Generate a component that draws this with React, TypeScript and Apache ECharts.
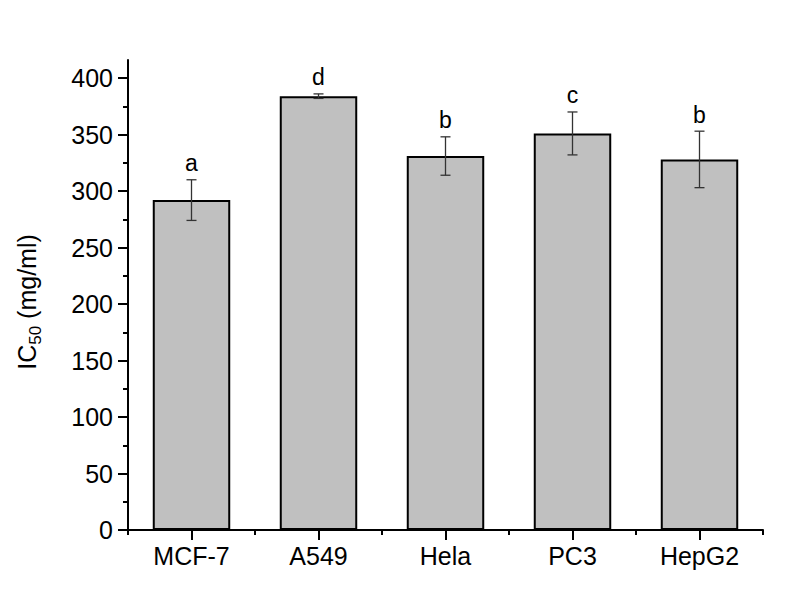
import React, { useEffect, useRef } from "react";
import * as echarts from "echarts";

const categories = ["MCF-7", "A549", "Hela", "PC3", "HepG2"];
const means = [292, 384, 331, 351, 328];
const errors = [18, 2, 17, 19, 25];
const letters = ["a", "d", "b", "c", "b"];
const majorTicks = [0, 50, 100, 150, 200, 250, 300, 350, 400];
const minorTicks = [25, 75, 125, 175, 225, 275, 325, 375];

const FONT = "'Liberation Sans', Arial, sans-serif";

export default function App() {
  const ref = useRef<HTMLDivElement>(null);
  useEffect(() => {
    if (!ref.current) return;
    const chart = echarts.init(ref.current, null, { renderer: "svg" });
    const errData = categories.map((_, i) => [i, means[i], errors[i]]);
    chart.setOption({
      animation: false,
      backgroundColor: "#ffffff",
      grid: { left: 128, right: 22, top: 60, bottom: 62, containLabel: false, outerBoundsMode: "none" },
      xAxis: [
        {
          type: "category",
          data: categories,
          boundaryGap: true,
          axisLine: { show: true, lineStyle: { color: "#000", width: 2 } },
          axisTick: { show: true, alignWithLabel: true, length: 10, inside: false, lineStyle: { color: "#000", width: 2 } },
          axisLabel: { color: "#000", fontSize: 25, fontFamily: FONT, margin: 13 },
          splitLine: { show: false },
        },
        {
          type: "category",
          data: categories,
          position: "bottom",
          boundaryGap: true,
          axisLine: { show: false },
          axisTick: { show: true, alignWithLabel: false, length: 5, lineStyle: { color: "#000", width: 2 } },
          axisLabel: { show: false },
          splitLine: { show: false },
        },
      ],
      yAxis: [
        {
          type: "value",
          min: 0,
          max: 416,
          interval: 50,
          name: "{a|IC}{s|50}{a| (mg/ml)}",
          nameLocation: "middle",
          nameRotate: 90,
          nameGap: 84,
          nameTextStyle: {
            padding: [0, 14, 0, 0],
            rich: {
              a: { fontSize: 25, fontFamily: FONT, color: "#000", lineHeight: 30, verticalAlign: "top" },
              s: { fontSize: 17, fontFamily: FONT, color: "#000", verticalAlign: "bottom", lineHeight: 17, padding: [24, 0, 0, 0] },
            },
          },
          axisLine: { show: true, lineStyle: { color: "#000", width: 2 } },
          axisTick: { show: true, length: 10, customValues: majorTicks, lineStyle: { color: "#000", width: 2 } },
          axisLabel: { color: "#000", fontSize: 25, fontFamily: FONT, margin: 15, customValues: majorTicks },
          splitLine: { show: false },
        },
        {
          type: "value",
          min: 0,
          max: 416,
          interval: 50,
          position: "left",
          axisLine: { show: false },
          axisTick: { show: true, length: 5, customValues: minorTicks, lineStyle: { color: "#000", width: 2 } },
          axisLabel: { show: false },
          splitLine: { show: false },
        },
      ],
      series: [
        {
          type: "bar",
          data: means,
          xAxisIndex: 0,
          yAxisIndex: 0,
          barWidth: "61%",
          itemStyle: { color: "#c0c0c0", borderColor: "#000", borderWidth: 2 },
        },
        {
          type: "custom",
          xAxisIndex: 0,
          yAxisIndex: 0,
          data: errData,
          z: 10,
          renderItem: (params: any, api: any) => {
            const idx = api.value(0);
            const m = api.value(1);
            const e = api.value(2);
            const i = params.dataIndex;
            const top = api.coord([idx, m + e]);
            const bot = api.coord([idx, m - e]);
            const hw = 5;
            const ls = { stroke: "#333", lineWidth: 1.3 };
            return {
              type: "group",
              children: [
                { type: "line", shape: { x1: top[0], y1: top[1], x2: bot[0], y2: bot[1] }, style: ls },
                { type: "line", shape: { x1: top[0] - hw, y1: top[1], x2: top[0] + hw, y2: top[1] }, style: ls },
                { type: "line", shape: { x1: bot[0] - hw, y1: bot[1], x2: bot[0] + hw, y2: bot[1] }, style: ls },
                {
                  type: "text",
                  style: {
                    text: letters[i],
                    x: top[0],
                    y: top[1] - 5,
                    align: "center",
                    verticalAlign: "bottom",
                    fontSize: 23,
                    fontFamily: FONT,
                    fill: "#000",
                  },
                },
              ],
            };
          },
        },
      ],
    });
    return () => chart.dispose();
  }, []);
  return <div ref={ref} style={{ width: 785, height: 592, position: "absolute", left: 0, top: 0 }} />;
}
